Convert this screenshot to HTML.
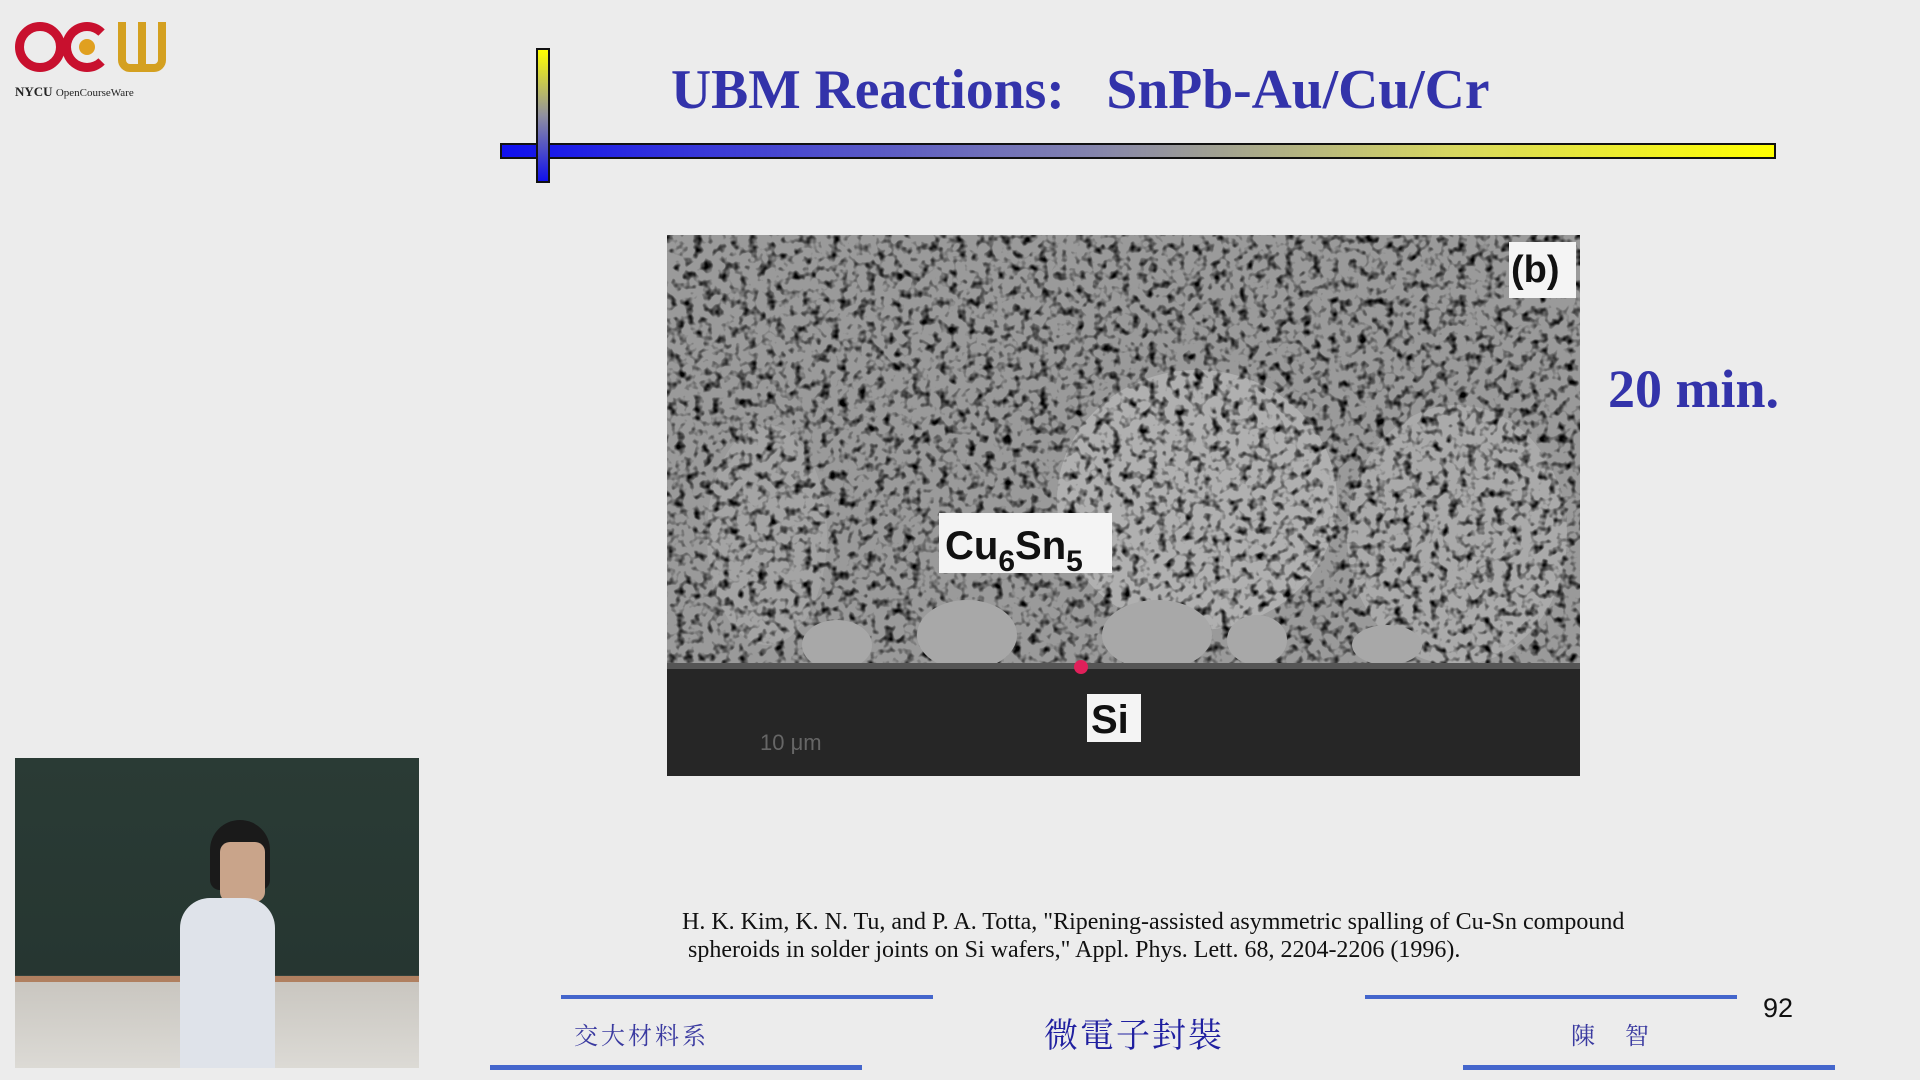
<!DOCTYPE html>
<html><head><meta charset="utf-8"><style>
body{margin:0;width:1920px;height:1080px;background:#ececec;position:relative;overflow:hidden;font-family:"Liberation Serif",serif}
.a{position:absolute}
.t{color:#3333aa;font-weight:bold;font-family:"Liberation Serif",serif;white-space:nowrap}
.ln{position:absolute;height:4px;background:#4466cc}
.cj{position:absolute;font-family:"Liberation Serif","Noto Serif CJK SC","WenQuanYi Zen Hei",serif;color:#3a3aa0;white-space:nowrap}
</style></head><body>
<div class="a" style="left:15px;top:22px;width:50px;height:50px;border:9px solid #c8102e;border-radius:50%;box-sizing:border-box"></div>
<div class="a" style="left:62px;top:22px;width:50px;height:50px;border:9px solid #c8102e;border-radius:50%;box-sizing:border-box;border-right-color:transparent"></div>
<div class="a" style="left:79px;top:39px;width:16px;height:16px;background:#e0a020;border-radius:50%"></div>
<div class="a" style="left:118px;top:22px;width:48px;height:50px;border:8px solid #d4a020;border-top:none;border-radius:0 0 12px 12px;box-sizing:border-box"></div>
<div class="a" style="left:138px;top:22px;width:8px;height:44px;background:#d4a020"></div>
<div class="a" style="left:15px;top:84px;font-size:13px;color:#222;white-space:nowrap"><b>NYCU</b> <span style="font-size:11px">OpenCourseWare</span></div>
<div class="a" style="left:500px;top:143px;width:1272px;height:12px;border:2px solid #111;background:linear-gradient(90deg,#1010ee,#2a2ae0 10%,#8080b0 45%,#d8d860 75%,#ffff00)"></div>
<div class="a" style="left:536px;top:48px;width:10px;height:131px;border:2px solid #111;background:linear-gradient(180deg,#ffff00,#9090a0 50%,#1010ee)"></div>
<div class="a t" style="left:671px;top:58px;font-size:55.6px">UBM Reactions:&nbsp;&nbsp; SnPb-Au/Cu/Cr</div>
<svg class="a" style="left:667px;top:235px" width="913" height="541" viewBox="0 0 913 541">
<defs>
<filter id="n" x="0" y="0" width="100%" height="100%"><feTurbulence type="fractalNoise" baseFrequency="0.11" numOctaves="2" seed="4"/><feColorMatrix type="matrix" values="0 0 0 0 0  0 0 0 0 0  0 0 0 0 0  3 0 0 0 -1.45"/></filter>
</defs>
<rect width="913" height="541" fill="#9a9a9a"/>
<ellipse cx="530" cy="265" rx="140" ry="130" fill="#b0b0b0"/>
<ellipse cx="790" cy="300" rx="110" ry="130" fill="#aaa"/>
<ellipse cx="100" cy="300" rx="60" ry="110" fill="#a4a4a4"/>
<rect width="913" height="430" filter="url(#n)"/>
<g fill="#a8a8a8"><ellipse cx="170" cy="410" rx="35" ry="25"/><ellipse cx="300" cy="400" rx="50" ry="35"/><ellipse cx="490" cy="400" rx="55" ry="35"/><ellipse cx="590" cy="405" rx="30" ry="25"/><ellipse cx="720" cy="410" rx="35" ry="20"/></g>
<rect y="430" width="913" height="111" fill="#262626"/>
<rect y="428" width="913" height="6" fill="#555"/>
<circle cx="414" cy="432" r="7" fill="#e0205a"/>
<rect x="272" y="278" width="173" height="60" fill="#f4f4f4"/>
<text x="278" y="324" font-family="Liberation Sans" font-weight="bold" font-size="40" fill="#111">Cu<tspan font-size="30" dy="12">6</tspan><tspan dy="-12">Sn</tspan><tspan font-size="30" dy="12">5</tspan></text>
<rect x="420" y="459" width="54" height="48" fill="#f4f4f4"/>
<text x="424" y="498" font-family="Liberation Sans" font-weight="bold" font-size="40" fill="#111">Si</text>
<rect x="842" y="7" width="67" height="56" fill="#f4f4f4"/>
<text x="844" y="47" font-family="Liberation Sans" font-weight="bold" font-size="38" fill="#111">(b)</text>
<text x="93" y="515" font-family="Liberation Sans" font-size="22" fill="#666">10 μm</text>
</svg>
<div class="a t" style="left:1608px;top:358px;font-size:54px">20 min.</div>
<div class="a" style="left:682px;top:908px;font-size:24px;color:#111;line-height:28px;white-space:nowrap">H. K. Kim, K. N. Tu, and P. A. Totta, "Ripening-assisted asymmetric spalling of Cu-Sn compound<br>&nbsp;spheroids in solder joints on Si wafers," Appl. Phys. Lett. 68, 2204-2206 (1996).</div>
<div class="ln" style="left:561px;top:995px;width:372px"></div>
<div class="ln" style="left:490px;top:1065px;width:372px;height:5px"></div>
<div class="ln" style="left:1365px;top:995px;width:372px"></div>
<div class="ln" style="left:1463px;top:1065px;width:372px;height:5px"></div>
<div class="cj" style="left:574px;top:1016px;font-size:24px;letter-spacing:3px">交大材料系</div>
<div class="cj" style="left:1044px;top:1008px;font-size:34px;letter-spacing:2px;color:#2020a0">微電子封裝</div>
<div class="cj" style="left:1571px;top:1016px;font-size:24px;letter-spacing:12px">陳 智</div>
<div class="a" style="left:1763px;top:993px;font-size:27px;font-family:'Liberation Sans',sans-serif;color:#111">92</div>
<div class="a" style="left:15px;top:758px;width:404px;height:310px;background:linear-gradient(180deg,#2a3b35 0%,#263631 70%,#c9c6c0 72%,#dcdad5 100%);overflow:hidden">
<div class="a" style="left:0;top:218px;width:404px;height:6px;background:#b08060"></div>
<div class="a" style="left:195px;top:62px;width:60px;height:70px;background:#1a1a1a;border-radius:30px 30px 10px 10px"></div>
<div class="a" style="left:205px;top:84px;width:45px;height:60px;background:#c9a48a;border-radius:10px"></div>
<div class="a" style="left:165px;top:140px;width:95px;height:175px;background:#dfe3ea;border-radius:30px 30px 0 0"></div>
</div>
</body></html>
